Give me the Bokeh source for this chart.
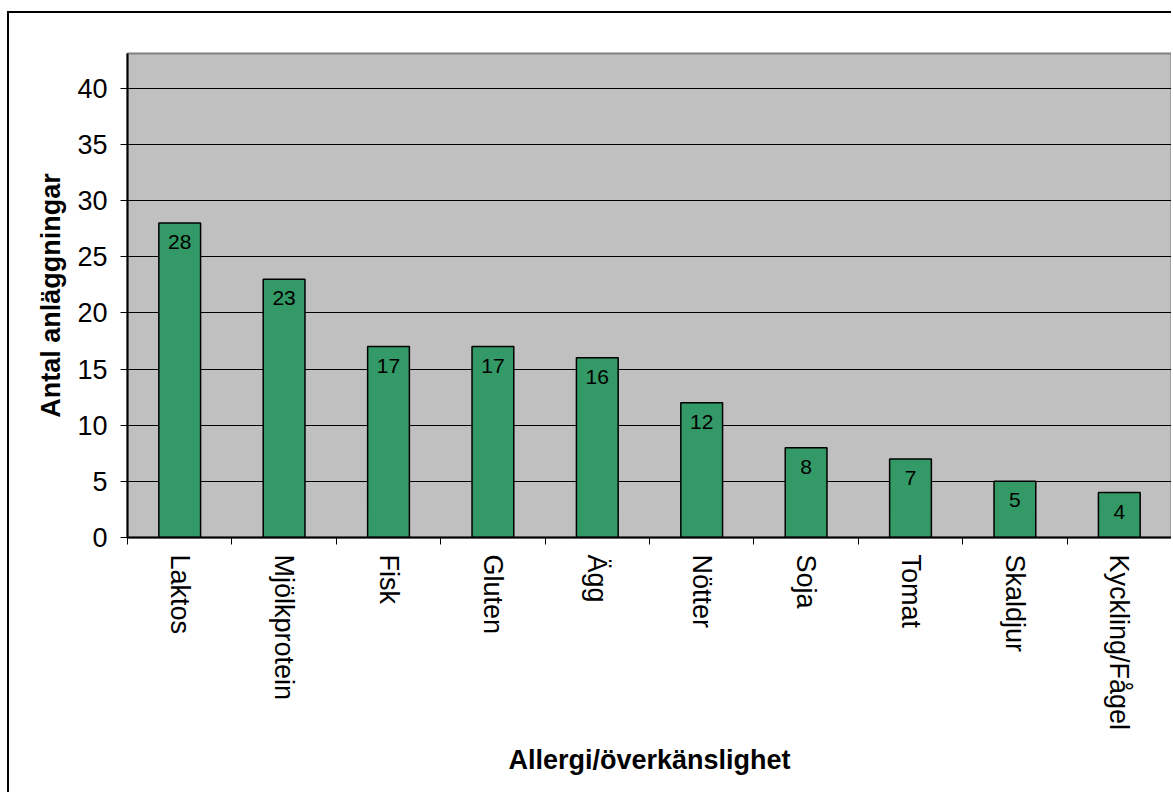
import math
from bokeh.plotting import figure
from bokeh.models import ColumnDataSource, FixedTicker, Range1d
from bokeh.core.properties import value
from bokeh.embed import file_html
from bokeh.resources import INLINE

categories = ["Laktos", "Mjölkprotein", "Fisk", "Gluten", "Ägg", "Nötter", "Soja", "Tomat", "Skaldjur", "Kyckling/Fågel"]
counts = [28, 23, 17, 17, 16, 12, 8, 7, 5, 4]
y_ticks = [0, 5, 10, 15, 20, 25, 30, 35, 40]

xs = [i + 0.5 for i in range(len(categories))]
src = ColumnDataSource(dict(x=xs, top=counts, label=[str(c) for c in counts]))

p = figure(width=1164, height=781, output_backend="svg", toolbar_location=None,
           x_range=Range1d(0, len(categories)), y_range=Range1d(0, 43.1),
           min_border_left=118, min_border_top=40, min_border_right=2, min_border_bottom=257)
p.margin = (11, 0, 0, 7)
p.styles = {"border-left": "2px solid black", "border-top": "2px solid black"}
p.background_fill_color = "#C0C0C0"
p.border_fill_color = "white"
p.outline_line_color = "#808080"
p.outline_line_width = 2

p.vbar(x="x", top="top", width=0.4, source=src, fill_color="#339966", line_color="black", line_width=1.5)
p.text(x="x", y="top", text="label", source=src, text_align="center", text_baseline="top",
       y_offset=12, text_font=value("Liberation Sans"), text_font_size="21px", text_color="black")

p.xgrid.visible = False
p.ygrid.ticker = FixedTicker(ticks=y_ticks)
p.ygrid.grid_line_color = "black"
p.ygrid.grid_line_width = 1

xa = p.xaxis[0]
xa.ticker = FixedTicker(ticks=xs, minor_ticks=list(range(len(categories) + 1)))
xa.major_label_overrides = {x: c for x, c in zip(xs, categories)}
xa.major_label_orientation = -math.pi / 2
xa.major_tick_out = 0
xa.major_tick_in = 0
xa.minor_tick_out = 7
xa.minor_tick_in = 0
xa.minor_tick_line_color = "black"
xa.axis_line_color = "black"
xa.axis_line_width = 2
xa.major_label_text_font = "Liberation Sans"
xa.major_label_text_font_size = "27px"
xa.major_label_text_color = "black"
xa.major_label_standoff = 10
xa.axis_label = "Allergi/överkänslighet"
xa.axis_label_text_font = "Liberation Sans"
xa.axis_label_text_font_style = "bold"
xa.axis_label_text_font_size = "27px"
xa.axis_label_text_color = "black"
xa.axis_label_standoff = 12

ya = p.yaxis[0]
ya.ticker = FixedTicker(ticks=y_ticks)
ya.minor_tick_line_color = None
ya.major_tick_out = 7
ya.major_tick_in = 0
ya.major_tick_line_color = "black"
ya.axis_line_color = "black"
ya.axis_line_width = 2
ya.major_label_text_font = "Liberation Sans"
ya.major_label_text_font_size = "27px"
ya.major_label_text_color = "black"
ya.major_label_standoff = 13
ya.axis_label = "Antal anläggningar"
ya.axis_label_text_font = "Liberation Sans"
ya.axis_label_text_font_style = "bold"
ya.axis_label_text_font_size = "27px"
ya.axis_label_text_color = "black"
ya.axis_label_standoff = 8

open("out.html", "w").write(file_html(p, INLINE))
